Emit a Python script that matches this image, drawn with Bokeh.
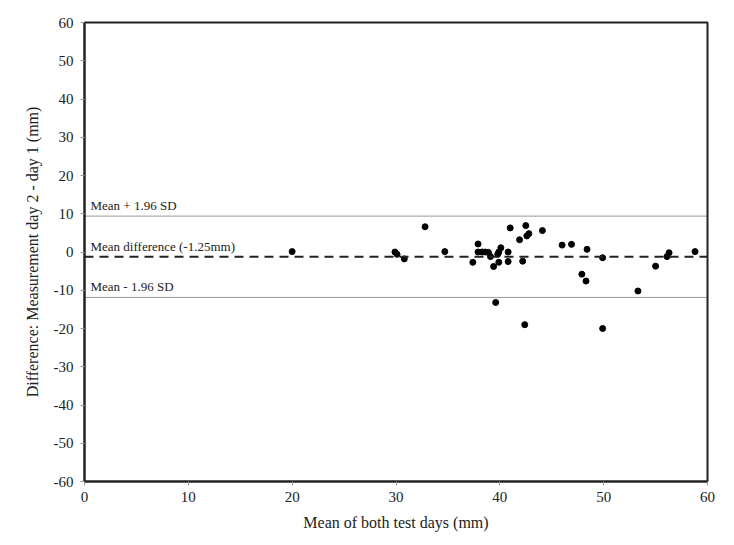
from bokeh.plotting import figure
from bokeh.models import Range1d, Span, FixedTicker, Label, PrintfTickFormatter
from bokeh.embed import file_html
from bokeh.resources import INLINE

# Bland-Altman data: mean of both days (x), difference day2 - day1 (y)
mean_x = [20.0, 29.9, 30.1, 30.8, 32.8, 34.7, 37.4, 37.9, 37.9, 38.3, 38.6, 38.9,
          39.1, 39.4, 39.6, 39.8, 39.9, 40.1, 39.9, 40.8, 40.8, 41.0, 41.9, 42.2,
          42.4, 42.5, 42.6, 42.8, 44.1, 46.0, 46.9, 47.9, 48.3, 48.4, 49.9, 49.9,
          53.3, 55.0, 56.1, 56.3, 58.8]
diff_y = [0.1, 0.0, -0.6, -1.8, 6.6, 0.1, -2.7, 2.1, 0.0, 0.0, 0.0, -0.1,
          -1.2, -3.8, -13.2, -0.6, 0.0, 1.1, -2.7, -2.5, 0.0, 6.3, 3.2, -2.4,
          -19.0, 6.9, 4.2, 4.8, 5.6, 1.8, 2.0, -5.8, -7.6, 0.7, -1.5, -20.0,
          -10.2, -3.7, -1.2, -0.2, 0.1]

mean_diff = -1.25
upper_loa = 9.38
lower_loa = -11.88

x_ticks = [0, 10, 20, 30, 40, 50, 60]
y_ticks = [-60, -50, -40, -30, -20, -10, 0, 10, 20, 30, 40, 50, 60]

FONT = "Liberation Serif"

p = figure(width=726, height=545, output_backend="svg", toolbar_location=None,
           x_range=Range1d(0, 60), y_range=Range1d(-60, 60),
           min_border_left=84, min_border_right=19, min_border_top=22, min_border_bottom=64)

p.background_fill_color = "white"
p.border_fill_color = "white"
p.outline_line_color = "#222222"
p.outline_line_width = 2
p.grid.visible = False

for ax in (p.xaxis[0], p.yaxis[0]):
    ax.axis_line_color = "#222222"
    ax.axis_line_width = 2
    ax.major_tick_line_color = "#999999"
    ax.major_tick_out = 4
    ax.major_tick_in = 0
    ax.minor_tick_line_color = None
    ax.major_label_text_font = FONT
    ax.major_label_text_font_size = "15px"
    ax.major_label_text_color = "#222222"
    ax.axis_label_text_font = FONT
    ax.axis_label_text_font_size = "16px"
    ax.axis_label_text_font_style = "normal"
    ax.axis_label_text_color = "#222222"
    ax.formatter = PrintfTickFormatter(format="%d")

p.xaxis.ticker = FixedTicker(ticks=x_ticks)
p.yaxis.ticker = FixedTicker(ticks=y_ticks)
p.xaxis.axis_label = "Mean of both test days (mm)"
p.yaxis.axis_label = "Difference: Measurement day 2 - day 1 (mm)"
p.xaxis.major_label_standoff = 6
p.yaxis.major_label_standoff = 7
p.xaxis.axis_label_standoff = 9
p.yaxis.axis_label_standoff = 10

p.add_layout(Span(location=upper_loa, dimension="width", line_color="#333333",
                  line_width=1, line_dash="1 1"))
p.add_layout(Span(location=lower_loa, dimension="width", line_color="#333333",
                  line_width=1, line_dash="1 1"))
p.add_layout(Span(location=mean_diff, dimension="width", line_color="#222222",
                  line_width=2, line_dash="9 6"))

labels = [(upper_loa, "Mean + 1.96 SD"),
          (mean_diff, "Mean difference (-1.25mm)"),
          (lower_loa, "Mean - 1.96 SD")]
for yv, txt in labels:
    p.add_layout(Label(x=0, y=yv, x_offset=6, y_offset=3, text=txt,
                       text_font=FONT, text_font_size="13px", text_color="#222222",
                       text_baseline="bottom"))

p.scatter(mean_x, diff_y, size=6, color="black")

open("out.html", "w").write(file_html(p, INLINE))
